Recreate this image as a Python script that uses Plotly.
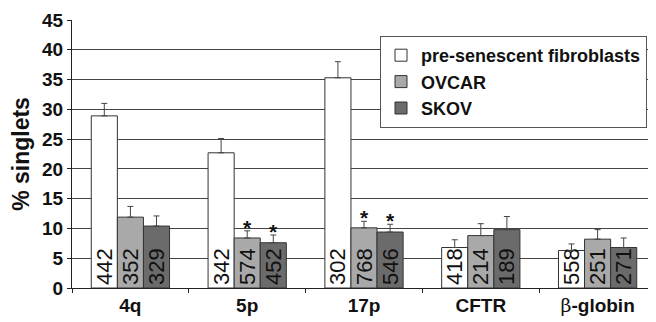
import plotly.graph_objects as go

categories = ["4q", "5p", "17p", "CFTR",
              "<span style='font-family:DejaVu Serif;font-weight:normal'>β</span>-globin"]
series_names = ["pre-senescent fibroblasts", "OVCAR", "SKOV"]
fibro_vals = [28.9, 22.7, 35.3, 6.8, 6.3]
fibro_err = [2.1, 2.4, 2.7, 1.3, 1.1]
fibro_n = ["442", "342", "302", "418", "558"]
ovcar_vals = [11.9, 8.4, 10.1, 8.8, 8.2]
ovcar_err = [1.8, 1.2, 1.1, 2.0, 1.6]
ovcar_n = ["352", "574", "768", "214", "251"]
skov_vals = [10.4, 7.6, 9.4, 9.8, 6.8]
skov_err = [1.7, 1.3, 1.3, 2.2, 1.6]
skov_n = ["329", "452", "546", "189", "271"]
ovcar_star = [False, True, True, False, False]
skov_star = [False, True, True, False, False]

colors = ["#ffffff", "#a9a9a9", "#6b6b6b"]
FONT = "Liberation Sans, Arial, sans-serif"

# page body has an 8px margin, so the figure is sized 8px smaller
W, H = 648, 314
ML, MR, MT, MB = 64, 0, 12, 34
BARGAP = 0.33

fig = go.Figure()
for name, vals, errs, ns, col in zip(series_names,
                                     [fibro_vals, ovcar_vals, skov_vals],
                                     [fibro_err, ovcar_err, skov_err],
                                     [fibro_n, ovcar_n, skov_n], colors):
    fig.add_trace(go.Bar(
        name=name, x=categories, y=vals, text=ns,
        textposition="inside", insidetextanchor="start", textangle=-90,
        constraintext="none",
        textfont=dict(family=FONT, size=22, color="#111111"),
        marker=dict(color=col, line=dict(color="#333333", width=1)),
        error_y=dict(type="data", array=errs, arrayminus=[0] * len(errs),
                     symmetric=False, color="#444444", thickness=1, width=3),
        legendgroup=name,
    ))

plot_w = W - ML - MR
plot_h = H - MT - MB
bar_px = (plot_w / len(categories)) * (1 - BARGAP) / 3
for stars, vals, errs, shift in [(ovcar_star, ovcar_vals, ovcar_err, 0),
                                 (skov_star, skov_vals, skov_err, 1)]:
    for c, s, v, e in zip(categories, stars, vals, errs):
        if s:
            fig.add_annotation(x=c, y=v + e, xref="x", yref="y", text="<b>*</b>",
                               showarrow=False, yanchor="bottom",
                               xshift=shift * bar_px, yshift=-10,
                               font=dict(family=FONT, size=21, color="#111"))

fig.update_layout(
    width=W, height=H, barmode="group", bargap=BARGAP, bargroupgap=0,
    margin=dict(l=ML, r=MR, t=MT, b=MB, autoexpand=False),
    plot_bgcolor="white", paper_bgcolor="white",
    font=dict(family=FONT, color="#111"),
    showlegend=True,
    legend=dict(x=(372 - ML) / plot_w, y=(H - MB - 28) / plot_h,
                xanchor="left", yanchor="top",
                bgcolor="white", bordercolor="#555555", borderwidth=1,
                font=dict(family=FONT, size=18, color="#111", weight="bold"),
                itemwidth=30, tracegroupgap=0),
    yaxis=dict(range=[0, 45], dtick=5, showgrid=True, gridcolor="#444444",
               gridwidth=1, showline=True, linecolor="#222", linewidth=1,
               ticks="outside", ticklen=4, tickcolor="#222", automargin=False,
               tickfont=dict(family=FONT, size=19, color="#111", weight="bold"),
               title=dict(text="<b>% singlets</b>", font=dict(family=FONT, size=23)),
               zeroline=False),
    xaxis=dict(showline=True, linecolor="#222", linewidth=1, automargin=False,
               ticks="outside", ticklen=4, tickcolor="#222", tickson="boundaries",
               tickfont=dict(family=FONT, size=19, color="#111", weight="bold")),
)

fig.write_html("out.html")
